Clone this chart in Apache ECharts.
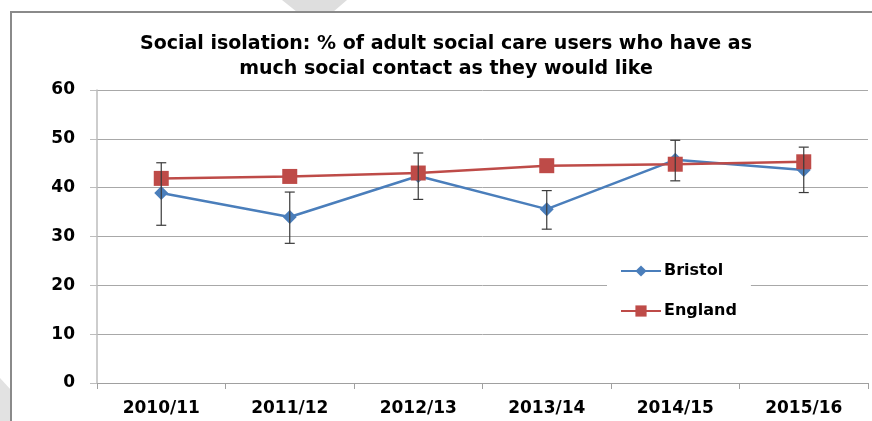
<!DOCTYPE html>
<html><head><meta charset="utf-8">
<script src="https://cdn.jsdelivr.net/npm/echarts@6/dist/echarts.min.js"></script>
<style>html,body{margin:0;padding:0;background:#fff}#c{width:872px;height:421px}</style>
</head><body><div id="c"></div>
<script>
const categories = ['2010/11','2011/12','2012/13','2013/14','2014/15','2015/16'];
const bristol = [38.9, 34.0, 42.4, 35.6, 45.7, 43.6];
const bristolLow = [32.3, 28.6, 37.6, 31.5, 41.4, 39.0];
const bristolHigh = [45.1, 39.1, 47.1, 39.4, 49.7, 48.3];
const england = [41.9, 42.3, 43.0, 44.5, 44.8, 45.3];
const yTicks = [0, 10, 20, 30, 40, 50, 60];

const chart = echarts.init(document.getElementById('c'));
const font = 'DejaVu Sans, sans-serif';
chart.setOption({
  animation: false,
  title: {
    text: 'Social isolation: % of adult social care users who have as\nmuch social contact as they would like',
    left: 441, textAlign: 'center', top: 27,
    textStyle: {fontFamily: font, fontWeight: 'bold', fontSize: 19, lineHeight: 25, color: '#000'}
  },
  graphic: [
    {type: 'polygon', shape: {points: [[282, 0], [347, 0], [333, 12], [297, 12]]}, style: {fill: '#dedede'}, z: -2},
    {type: 'polygon', shape: {points: [[0, 378], [11, 390], [11, 421], [0, 421]]}, style: {fill: '#e2e2e2'}, z: -2},
    {type: 'rect', shape: {x: 11, y: 12, width: 870, height: 420}, style: {fill: 'none', stroke: '#8a8a8a', lineWidth: 2}, z: -1}
  ],
  legend: {
    orient: 'vertical', left: 607, top: 253, itemGap: 24, itemWidth: 40, itemHeight: 14,
    backgroundColor: '#fff', padding: [10, 14, 10, 13],
    textStyle: {fontFamily: font, fontWeight: 'bold', fontSize: 16, color: '#000', padding: [0, 0, 0, -2]},
    data: ['Bristol', 'England']
  },
  grid: {left: 97, right: 4, top: 90, bottom: 38},
  xAxis: {
    type: 'category', data: categories, boundaryGap: true,
    axisLine: {lineStyle: {color: '#a0a0a0'}},
    axisTick: {show: true, alignWithLabel: false, length: 6, lineStyle: {color: '#a0a0a0'}},
    axisLabel: {fontFamily: font, fontWeight: 'bold', fontSize: 17, color: '#000', margin: 17}
  },
  yAxis: {
    type: 'value', min: yTicks[0], max: yTicks[yTicks.length - 1], interval: 10,
    axisLine: {show: true, lineStyle: {color: '#bdbdbd', width: 1.5}},
    axisTick: {show: true, length: 7, lineStyle: {color: '#bdbdbd'}},
    axisLabel: {fontFamily: font, fontWeight: 'bold', fontSize: 17, color: '#000', margin: 22},
    splitLine: {lineStyle: {color: '#a8a8a8', width: 1}}
  },
  series: [
    {
      name: 'Bristol', type: 'line', data: bristol, symbol: 'diamond', symbolSize: 14,
      lineStyle: {color: '#4a7ebb', width: 2.5}, itemStyle: {color: '#4a7ebb'}, z: 3
    },
    {
      name: 'England', type: 'line', data: england, symbol: 'rect', symbolSize: 15,
      lineStyle: {color: '#be4b48', width: 2.5}, itemStyle: {color: '#be4b48'}, z: 4
    },
    {
      name: 'err', type: 'custom', z: 5,
      data: categories.map((c, i) => [i, bristolLow[i], bristolHigh[i]]),
      renderItem: function (params, api) {
        const lo = api.coord([api.value(0), api.value(1)]);
        const hi = api.coord([api.value(0), api.value(2)]);
        const w = 5;
        const st = {stroke: '#3a3a3a', lineWidth: 1.2};
        return {type: 'group', children: [
          {type: 'line', shape: {x1: hi[0], y1: hi[1], x2: lo[0], y2: lo[1]}, style: st},
          {type: 'line', shape: {x1: hi[0] - w, y1: hi[1], x2: hi[0] + w, y2: hi[1]}, style: st},
          {type: 'line', shape: {x1: lo[0] - w, y1: lo[1], x2: lo[0] + w, y2: lo[1]}, style: st}
        ]};
      }
    }
  ]
});
</script></body></html>
